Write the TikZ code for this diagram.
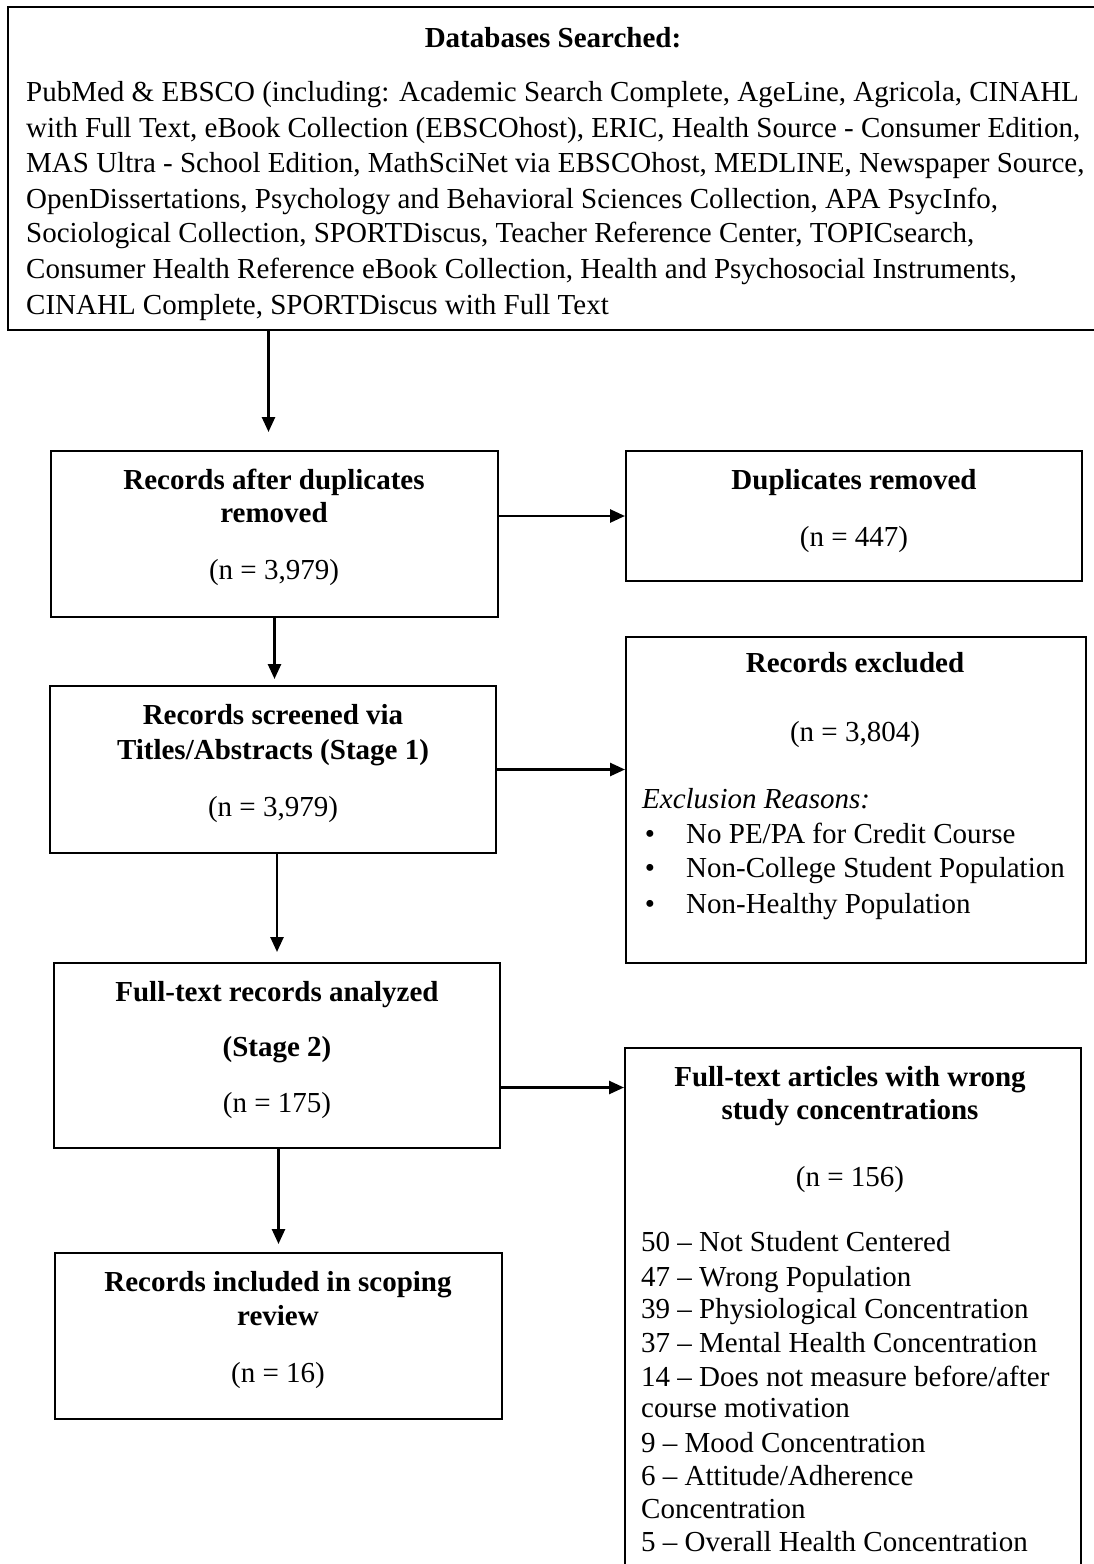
\documentclass[tikz,border=0pt]{standalone}
\usepackage{fontspec}
\setmainfont{Liberation Serif}
\usetikzlibrary{arrows.meta,calc}
\begin{document}
\begin{tikzpicture}[x=1pt,y=-1pt,
  box/.style={draw, line width=2pt, inner sep=0pt},
  txt/.style={font=\fontsize{29}{33}\selectfont, inner sep=0pt, anchor=base},
  btxt/.style={txt, font=\fontsize{29}{33}\selectfont\bfseries},
  ltxt/.style={txt, anchor=base west},
  arr/.style={-{Triangle[length=15pt,width=13pt]}, line width=2.6pt}]
\useasboundingbox (0,0) rectangle (1093,1564);
% boxes
\node[box, minimum width=1100pt, minimum height=323pt] (top) at (558,168.5) {};
\node[box, minimum width=447pt, minimum height=166pt] (b2) at (274.5,534) {};
\node[box, minimum width=456pt, minimum height=130pt] (dup) at (854,516) {};
\node[box, minimum width=446pt, minimum height=167pt] (b3) at (273,769.5) {};
\node[box, minimum width=460pt, minimum height=326pt] (excl) at (856,800) {};
\node[box, minimum width=446pt, minimum height=185pt] (b4) at (277,1055.5) {};
\node[box, minimum width=456pt, minimum height=530pt] (ft) at (853,1313) {};
\node[box, minimum width=447pt, minimum height=166pt] (b5) at (278.5,1336) {};
% top text
\node[btxt] (tt) at (553,47) {Databases Searched:};
\node[ltxt] (t1) at (26,101) {PubMed \& EBSCO (including: Academic Search Complete, AgeLine, Agricola, CINAHL};
\node[ltxt] (t2) at (26,137) {with Full Text, eBook Collection (EBSCOhost), ERIC, Health Source - Consumer Edition,};
\node[ltxt] (t3) at (26,172) {MAS Ultra - School Edition, MathSciNet via EBSCOhost, MEDLINE, Newspaper Source,};
\node[ltxt] (t4) at (26,208) {OpenDissertations, Psychology and Behavioral Sciences Collection, APA PsycInfo,};
\node[ltxt] (t5) at (26,242) {Sociological Collection, SPORTDiscus, Teacher Reference Center, TOPICsearch,};
\node[ltxt] (t6) at (26,278) {Consumer Health Reference eBook Collection, Health and Psychosocial Instruments,};
\node[ltxt] (t7) at (26,314) {CINAHL Complete, SPORTDiscus with Full Text};
% box 2
\node[btxt] (b2a) at (274,489) {Records after duplicates};
\node[btxt] (b2b) at (274,522) {removed};
\node[txt] (b2c) at (274,579) {(n = 3,979)};
% dup
\node[btxt] (dupa) at (854,489) {Duplicates removed};
\node[txt] (dupb) at (854,546) {(n = 447)};
% box 3
\node[btxt] (b3a) at (273,724) {Records screened via};
\node[btxt] (b3b) at (273,759) {Titles/Abstracts (Stage 1)};
\node[txt] (b3c) at (273,816) {(n = 3,979)};
% excluded
\node[btxt] (exa) at (855,672) {Records excluded};
\node[txt] (exb) at (855,741) {(n = 3,804)};
\node[ltxt, font=\fontsize{29}{33}\selectfont\itshape] (exc) at (642,808) {Exclusion Reasons:};
\node[txt] (bu1) at (650,843) {•};
\node[txt] (bu2) at (650,877) {•};
\node[txt] (bu3) at (650,913) {•};
\node[ltxt] (ex1) at (686,843) {No PE/PA for Credit Course};
\node[ltxt] (ex2) at (686,877) {Non-College Student Population};
\node[ltxt] (ex3) at (686,913) {Non-Healthy Population};
% box 4
\node[btxt] (b4a) at (277,1001) {Full-text records analyzed};
\node[btxt] (b4b) at (277,1056) {(Stage 2)};
\node[txt] (b4c) at (277,1112) {(n = 175)};
% ft
\node[btxt] (fta) at (850,1086) {Full-text articles with wrong};
\node[btxt] (ftb) at (850,1119) {study concentrations};
\node[txt] (ftc) at (850,1186) {(n = 156)};
\node[ltxt] (l1) at (641,1251) {50 – Not Student Centered};
\node[ltxt] (l2) at (641,1286) {47 – Wrong Population};
\node[ltxt] (l3) at (641,1318) {39 – Physiological Concentration};
\node[ltxt] (l4) at (641,1352) {37 – Mental Health Concentration};
\node[ltxt] (l5) at (641,1386) {14 – Does not measure before/after};
\node[ltxt] (l6) at (641,1417) {course motivation};
\node[ltxt] (l7) at (641,1452) {9 – Mood Concentration};
\node[ltxt] (l8) at (641,1485) {6 – Attitude/Adherence};
\node[ltxt] (l9) at (641,1518) {Concentration};
\node[ltxt] (l10) at (641,1551) {5 – Overall Health Concentration};
% box 5
\node[btxt] (b5a) at (278,1291) {Records included in scoping};
\node[btxt] (b5b) at (278,1325) {review};
\node[txt] (b5c) at (278,1382) {(n = 16)};
% connectors
\coordinate (a1) at ([xshift=-6pt,yshift=18pt]b2.north);
\draw[arr] (top.south -| a1) -- (a1);
\draw[arr, shorten >=6pt] (b2.south) -- (b2.south |- b3.north);
\coordinate (a3) at ([yshift=10pt]b4.north);
\draw[arr] (b3.south -| a3) -- (a3);
\draw[arr, shorten >=8pt] (b4.south -| b5.north) -- (b5.north);
\draw[arr] (b2.east |- dup.west) -- (dup.west);
\draw[arr] (b3.east) -- (b3.east -| excl.west);
\coordinate (h3) at ([yshift=-32pt]b4.east);
\draw[arr] (h3) -- (h3 -| ft.west);
\end{tikzpicture}
\end{document}
